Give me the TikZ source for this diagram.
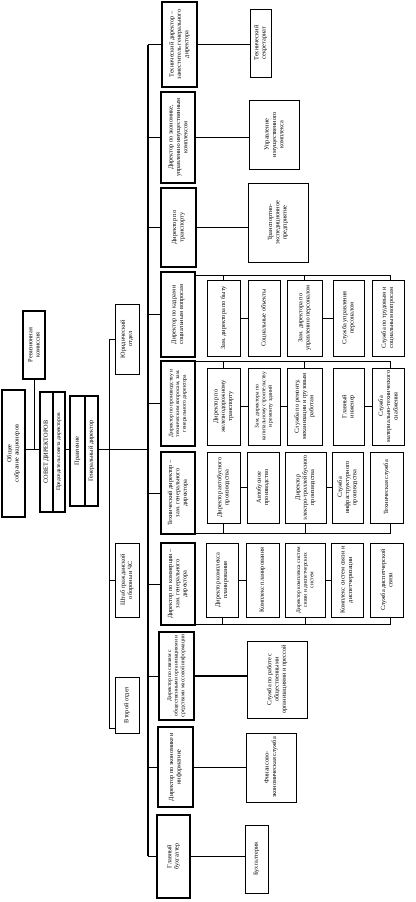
\documentclass[tikz,border=0pt]{standalone}
\usepackage{fontspec}
\setmainfont{Liberation Serif}
\tikzset{
  bx/.style={draw, line width=0.8pt, fill=white, inner sep=0pt, font=\fontsize{6.3}{7.3}\selectfont},
  dbx/.style={bx, line width=1.6pt},
  sm/.style={font=\fontsize{5.6}{6.6}\selectfont},
  ln/.style={line width=0.8pt},
  tln/.style={line width=1.5pt},
}
\newcommand\mkbox[7]{%
  \node[#1, minimum width={(#5-#3)*1pt}, minimum height={(#6-#4)*1pt}] (#2) at ({(#3+#5)/2},{(#4+#6)/2})
  {\rotatebox{90}{\parbox{\dimexpr #6pt-#4pt-5pt\relax}{\centering #7}}};}
\begin{document}
\begin{tikzpicture}[x=1pt,y=-1pt]
\useasboundingbox[fill=white] (0,0) rectangle (415,902);
% top-left governance
\mkbox{dbx}{osa}{2}{390}{25}{517}{Общее\\собрание акционеров}
\mkbox{dbx}{rk}{23}{311}{45}{379}{Ревизионная\\комиссия}
\mkbox{dbx}{sd1}{40}{392}{53}{512}{СОВЕТ ДИРЕКТОРОВ}
\mkbox{dbx,sm}{sd2}{53}{392}{65}{512}{Председатель совета директоров}
\mkbox{dbx}{pr}{70}{396}{85}{506}{Правление}
\mkbox{dbx}{gd}{85}{396}{98}{506}{Генеральный директор}
\mkbox{bx}{ju}{115}{304}{139}{374}{Юридический\\отдел}
\mkbox{bx}{shtab}{115}{543}{139}{617}{Штаб гражданской обороны и ЧС}
\mkbox{bx}{vo}{115}{677}{139}{733}{Второй отдел}
% directors
\mkbox{dbx}{d1}{162}{2}{197}{87}{Технический директор – заместитель генерального директора}
\mkbox{dbx}{d2}{161}{92}{195}{183}{Директор по экономике, управлению имущественным комплексом}
\mkbox{dbx}{d3}{161}{188}{196}{267}{Директор по\\транспорту}
\mkbox{dbx}{d4}{161}{272}{195}{357}{Директор по кадрам и социальным вопросам}
\mkbox{dbx,sm}{d5}{161}{361}{195}{446}{Директор по производству и техническим вопросам, зам. генерального директора}
\mkbox{dbx}{d6}{161}{452}{195}{534}{Технический директор – зам. генерального директора}
\mkbox{dbx}{d7}{161}{543}{195}{625}{Директор по коммерции – зам. генерального директора}
\mkbox{dbx,sm}{d8}{159}{632}{194}{720}{Директор по связям с общественными организациями и средствами массовой информации}
\mkbox{dbx}{d9}{158}{727}{193}{807}{Директор по экономике и информатике}
\mkbox{dbx}{d10}{157}{815}{190}{898}{Главный\\бухгалтер}
% right single boxes
\mkbox{bx}{r1}{250}{9}{271}{77}{Технический\\секретариат}
\mkbox{bx}{r2}{249}{100}{299}{169}{Управление имущественного комплекса}
\mkbox{bx}{r3}{248}{183}{308}{262}{Транспортно-экспедиционное предприятие}
\mkbox{bx}{r8}{247}{641}{307}{718}{Служба по работе с общественными организациями и прессой}
\mkbox{bx}{r9}{246}{733}{296}{802}{Финансово-экономическая служба}
\mkbox{bx}{r10}{245}{825}{268}{893}{Бухгалтерия}
% group 4
\mkbox{bx}{a1}{207}{280}{240}{356}{Зам. директора по быту}
\mkbox{bx}{a2}{248}{280}{280}{356}{Социальные объекты}
\mkbox{bx}{a3}{287}{280}{322}{356}{Зам. директора по управлению персоналом}
\mkbox{bx}{a4}{333}{280}{364}{356}{Служба управления персоналом}
\mkbox{bx}{a5}{372}{280}{404}{356}{Служба по трудовым и социальным вопросам}
% group 5
\mkbox{bx}{b1}{207}{368}{240}{445}{Директор по железнодорожному транспорту}
\mkbox{bx,sm}{b2}{248}{368}{280}{445}{Зам. директора по капитальному строительству и ремонту зданий}
\mkbox{bx}{b3}{287}{368}{322}{445}{Служба по ремонту, механизации и грузовым работам}
\mkbox{bx}{b4}{333}{368}{364}{445}{Главный\\инженер}
\mkbox{bx}{b5}{372}{368}{404}{445}{Служба материально-технического снабжения}
% group 6
\mkbox{bx}{e1}{207}{452}{240}{523}{Директор автобусного производства}
\mkbox{bx}{e2}{247}{452}{279}{523}{Автобусное производство}
\mkbox{bx}{e3}{285}{452}{326}{523}{Директор электро-троллейбусного производства}
\mkbox{bx}{e4}{332}{452}{363}{523}{Служба инфраструктурного производства}
\mkbox{bx}{e5}{370}{452}{403}{523}{Техническая служба}
% group 7
\mkbox{bx}{f1}{206}{543}{238}{617}{Директор комплекса планирования}
\mkbox{bx}{f2}{246}{543}{279}{617}{Комплекс планирования}
\mkbox{bx,sm}{f3}{285}{543}{325}{617}{Директор комплекса систем связи и диспетчерских систем}
\mkbox{bx}{f4}{331}{543}{363}{617}{Комплекс систем связи и диспетчеризации}
\mkbox{bx}{f5}{370}{543}{403}{617}{Служба диспетчерской связи}
% governance connectors
\coordinate (gj) at (148,449);
\draw[ln] (osa.east |- gj) -- (sd1.west |- gj);
\draw[ln] (sd2.east |- gj) -- (pr.west |- gj);
\draw[ln] (gd.east |- gj) -- (gj);
\draw[ln] (rk.south) -- (rk.south |- gj);
\coordinate (vt) at (109,339);
\coordinate (vb) at (109,728);
\draw[ln] (ju.west) -- (ju.west -| vt) -- (vb) -- (vb -| vo.west);
\draw[ln] (shtab.west -| vt) -- (shtab.west);
% main bus
\coordinate (bt) at (148,45);
\coordinate (bb) at (148,856);
\draw[tln] (bt) -- (bb);
\foreach \d in {d1,d2,d3,d4,d5,d6,d7,d8,d9,d10}{\draw[ln] (\d.west -| bt) -- (\d.west);}
% right single connectors
\draw[tln] (d1.east) -- (d1.east -| r1.west);
\draw[ln] (d2.east) -- (d2.east -| r2.west);
\draw[ln] (d3.east) -- (d3.east -| r3.west);
\draw[tln] (d8.east) -- (d8.east -| r8.west);
\draw[ln] (d9.east) -- (d9.east -| r9.west);
\draw[ln] (d10.east) -- (d10.east -| r10.west);
% group buses
\coordinate (g4) at (390,275);
\coordinate (g5) at (390,361);
\coordinate (g6) at (390,533);
\coordinate (g7) at (390,624);
\draw[ln] (d4.east |- g4) -- (g4) -- (g4 |- a5.north);
\draw[ln] (a1.north |- g4) -- (a1.north);
\draw[ln] (a3.north |- g4) -- (a3.north);
\draw[ln] (d5.east |- g5) -- (g5) -- (g5 |- b5.north);
\draw[ln] (b1.north |- g5) -- (b1.north);
\draw[ln] (b3.north |- g5) -- (b3.north);
\draw[ln] (d6.east |- g6) -- (g6) -- (g6 |- e5.south);
\draw[ln] (e1.south |- g6) -- (e1.south);
\draw[ln] (e3.south |- g6) -- (e3.south);
\draw[ln] (d7.east |- g7) -- (g7) -- (g7 |- f5.south);
\draw[ln] (f1.south |- g7) -- (f1.south);
\draw[ln] (f3.south |- g7) -- (f3.south);
% pair links
\foreach \p/\q in {a1/a2,a3/a4,b1/b2,b2/b3,b4/b5,e1/e2,e3/e4,f1/f2,f3/f4}{\draw[ln] (\p.east) -- (\p.east -| \q.west);}
\end{tikzpicture}
\end{document}
